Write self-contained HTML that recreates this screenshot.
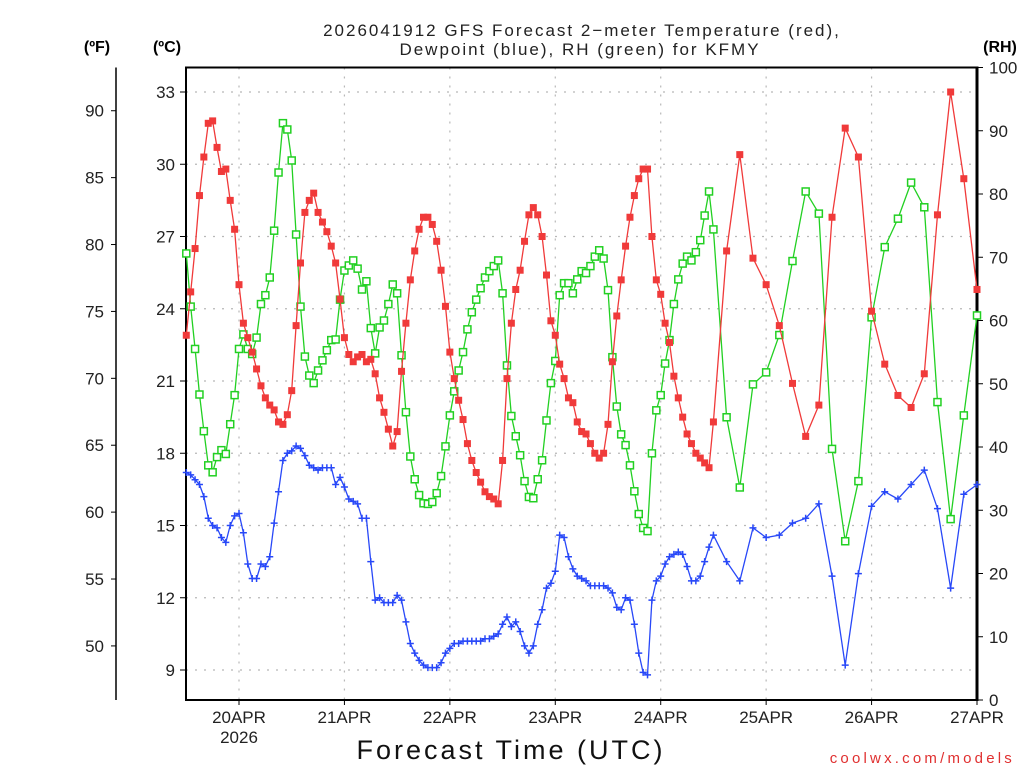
<!DOCTYPE html>
<html><head><meta charset="utf-8"><title>GFS Forecast KFMY</title>
<style>
html,body{margin:0;padding:0;background:#fff;}
svg{display:block;font-family:"Liberation Sans","DejaVu Sans",sans-serif;}
</style></head>
<body>
<svg id="chart" width="1024" height="768" viewBox="0 0 1024 768" xmlns="http://www.w3.org/2000/svg">
<rect width="1024" height="768" fill="#fff"/>
<g font-size="17" fill="#222" text-anchor="middle" letter-spacing="2">
<text x="582" y="36">2026041912 GFS Forecast 2−meter Temperature (red),</text>
<text x="580" y="55">Dewpoint (blue), RH (green) for KFMY</text>
</g>
<text x="97" y="52" font-size="16" font-weight="bold" text-anchor="middle">(ºF)</text>
<text x="167" y="52" font-size="16" font-weight="bold" text-anchor="middle">(ºC)</text>
<text x="1000" y="52" font-size="16" font-weight="bold" text-anchor="middle">(RH)</text>
<g id="grid"></g>
<g id="axes"></g>
<g id="series"></g>
<text x="511" y="759" font-size="27" fill="#111" text-anchor="middle" letter-spacing="3">Forecast Time (UTC)</text>
<text x="1015" y="763" font-size="15" fill="#e03030" text-anchor="end" letter-spacing="3.2">coolwx.com/models</text>
</svg>
<script>
// forecast hours
const hoursHourly = Array.from({length:121},(_,i)=>i);
const hours3h = [123,126,129,132,135,138,141,144,147,150,153,156,159,162,165,168,171,174,177,180];
const forecastHours = hoursHourly.concat(hours3h);
// temperature (°C)
const tempC = [22.9,24.7,26.5,28.7,30.3,31.7,31.8,30.7,29.7,29.8,28.5,27.3,25.0,23.4,22.8,22.2,21.5,20.8,20.3,20.0,19.8,19.3,19.2,19.6,20.6,23.3,25.9,28.0,28.5,28.8,28.0,27.6,27.2,26.6,25.9,24.4,
22.8,22.1,21.8,22.0,22.1,21.8,21.9,21.3,20.3,19.7,19.0,18.3,18.9,21.4,23.4,25.2,26.4,27.3,27.8,27.8,27.5,26.8,25.6,24.1,22.2,21.1,20.2,19.4,18.4,17.7,17.2,16.8,16.4,16.2,16.1,15.9,
17.7,21.1,23.4,24.8,25.6,26.8,27.9,28.2,27.9,27.0,25.4,23.5,22.9,21.7,21.1,20.3,20.1,19.3,18.9,18.8,18.4,18.0,17.8,18.0,19.2,21.8,23.7,25.2,26.6,27.8,28.7,29.4,29.8,29.8,27.0,25.2,
24.6,23.4,22.6,21.2,20.3,19.5,18.8,18.4,18.0,17.8,17.6,17.4,19.3,
26.4,30.4,26.1,25.0,23.3,20.9,18.7,20.0,27.8,31.5,30.3,23.9,21.7,20.4,19.9,21.3,27.9,33.0,29.4,24.8];
// dewpoint (°C)
const dewpointC = [17.2,17.1,16.9,16.7,16.2,15.3,15.0,14.9,14.5,14.3,15.0,15.4,15.5,14.7,13.4,12.8,12.8,13.4,13.3,13.7,15.1,16.4,17.7,18.0,18.1,18.3,18.2,17.9,17.5,17.4,17.3,17.4,17.4,17.4,16.7,17.0,16.6,
16.1,16.0,15.9,15.3,15.3,13.5,11.9,12.0,11.8,11.8,11.8,12.1,11.9,11.0,10.1,9.7,9.4,9.2,9.1,9.1,9.1,9.3,9.7,9.9,10.1,10.1,10.2,10.2,10.2,10.2,10.2,10.3,10.3,10.4,10.5,10.9,
11.2,10.8,11.0,10.6,10.0,9.7,10.0,10.9,11.5,12.4,12.6,13.1,14.6,14.5,13.7,13.2,12.9,12.8,12.7,12.5,12.5,12.5,12.5,12.4,12.2,11.6,11.5,12.0,11.9,10.9,9.7,8.9,8.8,11.9,12.7,12.9,
13.4,13.7,13.8,13.9,13.8,13.3,12.7,12.7,12.9,13.5,14.1,14.6,
13.5,12.7,14.9,14.5,14.6,15.1,15.3,15.9,12.9,9.2,13.0,15.8,16.4,16.1,16.7,17.3,15.7,12.4,16.3,16.7];
// relative humidity (%)
const rhPct = [70.6,62.2,55.5,48.3,42.5,37.1,36.0,38.4,39.5,38.9,43.6,48.2,55.5,57.8,55.5,54.7,57.3,62.6,64.0,66.8,74.2,83.4,91.2,90.2,85.3,73.6,62.2,54.3,51.3,50.1,52.1,53.7,55.3,56.9,57.0,63.3,67.9,
68.7,69.5,68.2,64.9,66.2,58.8,54.8,58.9,60.0,62.6,65.7,64.3,54.5,45.5,38.5,34.9,32.4,31.1,31.0,31.3,32.7,35.4,40.1,45.0,48.8,52.1,55.0,58.6,61.3,63.3,65.1,66.8,67.8,68.6,69.5,64.3,
52.9,44.9,41.7,38.7,34.6,32.1,31.9,34.9,37.9,44.2,50.1,53.6,64.0,65.9,65.9,64.3,66.5,67.8,67.5,68.6,70.1,71.1,69.8,64.8,54.2,46.4,42.0,40.3,37.1,33.0,29.4,27.2,26.7,39.0,45.8,48.2,
53.2,56.9,62.6,66.5,69.0,70.1,69.5,70.8,72.7,76.6,80.4,74.4,
44.7,33.6,49.9,51.8,57.7,69.4,80.4,76.9,39.7,25.1,34.6,60.5,71.6,76.1,81.8,77.9,47.1,28.6,45.0,60.8];
// tick labels
const celsiusTicks = [9,12,15,18,21,24,27,30,33];
const fahrenheitTicks = [50,55,60,65,70,75,80,85,90];
const rhTicks = [0,10,20,30,40,50,60,70,80,90,100];
const dayLabels = ["20APR","21APR","22APR","23APR","24APR","25APR","26APR","27APR"];
const dayHours = [12,36,60,84,108,132,156,180];

const NS="http://www.w3.org/2000/svg";
const L=186,R=977,T=67.5,B=700;
const xH = h => 239 + (h-12)*(738/168);
const yC = c => 92 + (33-c)*(578/24);
const yF = f => yC((f-32)/1.8);
const yRH = r => B - r*(B-T)/100;
function mk(tag,attrs,parent){const e=document.createElementNS(NS,tag);for(const k in attrs)e.setAttribute(k,attrs[k]);parent.appendChild(e);return e;}
const grid=document.getElementById('grid'),axes=document.getElementById('axes'),series=document.getElementById('series');

celsiusTicks.forEach(c=>{
  const g=mk('line',{x1:L,x2:R,y1:yC(c),y2:yC(c),stroke:'#b8b8b8','stroke-width':1.2,'stroke-dasharray':'2,7'},grid);
  
  
  const t=mk('line',{x1:L-6,x2:L,y1:yC(c),y2:yC(c),stroke:'#000','stroke-width':1},axes);
  
  
  const lb=mk('text',{x:L-11,y:yC(c)+6,'font-size':17,'text-anchor':'end',fill:'#222'},axes);
  lb.textContent=c;
  
  
});
dayHours.forEach((h,i)=>{
  const x=xH(h);
  if(i<dayHours.length-1){
    const g=mk('line',{x1:x,x2:x,y1:T,y2:B,stroke:'#b8b8b8','stroke-width':1.2,'stroke-dasharray':'2,7'},grid);
    
    
  }
  const t=mk('line',{x1:x,x2:x,y1:B,y2:B+5,stroke:'#000','stroke-width':1},axes);
  
  
  const lb=mk('text',{x:x,y:723,'font-size':17,'text-anchor':'middle',fill:'#222'},axes);
  lb.textContent=dayLabels[i];
  
  
});
const yr=mk('text',{x:xH(12),y:743,'font-size':17,'text-anchor':'middle',fill:'#222'},axes);
yr.textContent='2026';



fahrenheitTicks.forEach(f=>{
  const t=mk('line',{x1:111,x2:116,y1:yF(f),y2:yF(f),stroke:'#000','stroke-width':1},axes);
  
  
  const lb=mk('text',{x:104,y:yF(f)+6,'font-size':17,'text-anchor':'end',fill:'#222'},axes);
  lb.textContent=f;
  
  
});
rhTicks.forEach(r=>{
  const t=mk('line',{x1:R,x2:R+6,y1:yRH(r),y2:yRH(r),stroke:'#000','stroke-width':1},axes);
  
  
  const lb=mk('text',{x:989,y:yRH(r)+6,'font-size':17,'text-anchor':'start',fill:'#222'},axes);
  lb.textContent=r;
  
  
});
const fa=mk('line',{x1:116,x2:116,y1:T,y2:B,stroke:'#000','stroke-width':1.5},axes);


const box=mk('path',{d:`M${R},${T} L${L},${T} L${L},${B} L${R},${B}`,fill:'none',stroke:'#000','stroke-width':2},axes);


const ra=mk('line',{x1:R,x2:R,y1:T-1,y2:B+1,stroke:'#000','stroke-width':3},axes);



function drawSeries(vals,yf,color,kind,name){
  const g=mk('g',{},series);
  
  
  const pts=vals.map((v,i)=>[xH(forecastHours[i]),yf(v)]);
  const pl=mk('polyline',{points:pts.map(p=>p[0].toFixed(1)+','+p[1].toFixed(1)).join(' '),fill:'none',stroke:color,'stroke-width':1.3},g);
  
  
  pts.forEach(([x,y])=>{
    let m;
    if(kind==='fill'){m=mk('rect',{x:x-3.5,y:y-3.5,width:7,height:7,fill:color},g);}
    else if(kind==='open'){m=mk('rect',{x:x-3.5,y:y-3.5,width:7,height:7,fill:'#fff',stroke:color,'stroke-width':1.5},g);}
    else {m=mk('path',{d:`M${x-3.5},${y}H${x+3.5}M${x},${y-3.5}V${y+3.5}`,stroke:color,'stroke-width':1.5},g);}
    
    
  });
}
drawSeries(rhPct,yRH,'#22d022','open','rh-series');
drawSeries(dewpointC,yC,'#2848f8','plus','dewpoint-series');
drawSeries(tempC,yC,'#f03a3a','fill','temperature-series');
</script>
</body></html>
